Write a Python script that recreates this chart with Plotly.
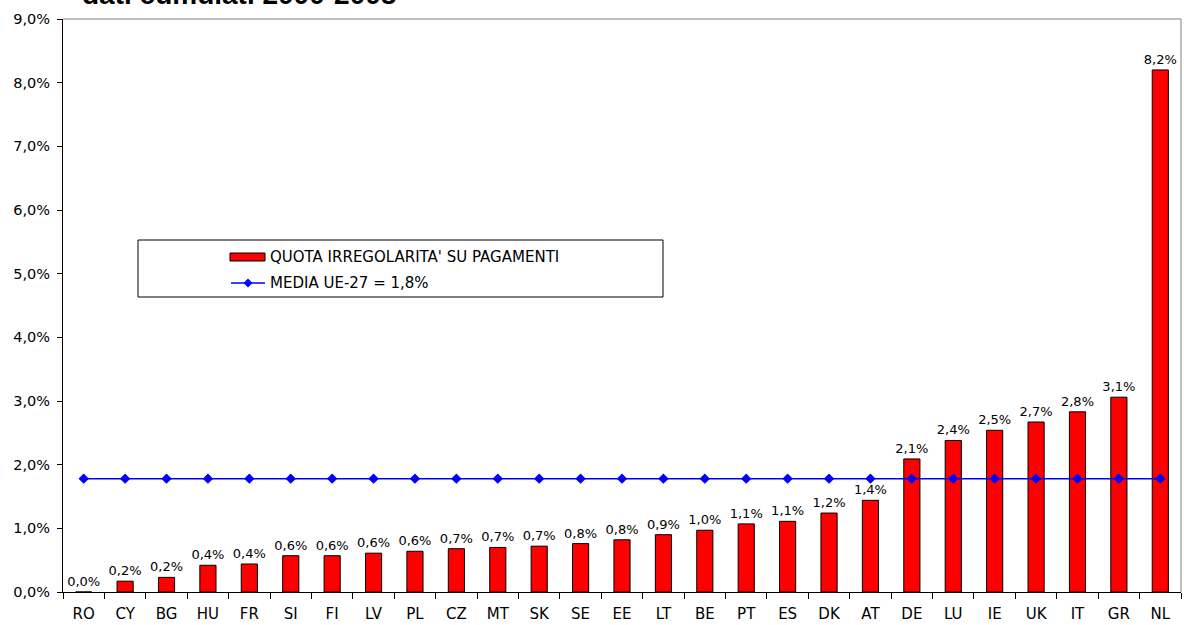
import plotly.graph_objects as go

countries = ["RO", "CY", "BG", "HU", "FR", "SI", "FI", "LV", "PL", "CZ", "MT", "SK", "SE", "EE",
             "LT", "BE", "PT", "ES", "DK", "AT", "DE", "LU", "IE", "UK", "IT", "GR", "NL"]
quota = [0.0000, 0.0017, 0.0023, 0.0042, 0.0044, 0.0057, 0.0057, 0.0061, 0.0064, 0.0068, 0.0070,
         0.0072, 0.0076, 0.0082, 0.0090, 0.0097, 0.0107, 0.0111, 0.0124, 0.0144, 0.0209, 0.0238,
         0.0254, 0.0267, 0.0283, 0.0306, 0.0820]
media_value = 0.0178
media = [media_value] * len(countries)

bar_name = "QUOTA IRREGOLARITA' SU PAGAMENTI"
line_name = "MEDIA UE-27 = 1,8%"
title_text = "dati cumulati 2000-2008"

W, H = 1184, 625
plot_left, plot_right, plot_top, plot_bottom = 63, 1181, 19, 592
L = plot_left
R = W - plot_right
T = plot_top
B = H - plot_bottom
pw = plot_right - plot_left
ph = plot_bottom - plot_top

def px_x(x):
    return (x - plot_left) / pw

def px_y(y):
    return (plot_bottom - y) / ph

font = "DejaVu Sans, Verdana, sans-serif"

fig = go.Figure()
fig.add_trace(go.Bar(
    x=countries, y=quota, name=bar_name,
    marker=dict(color="#FF0000", line=dict(color="black", width=1)),
    width=0.39,
    texttemplate="%{y:.1%}", textposition="outside", constraintext="none",
    textfont=dict(family=font, size=13, color="black"),
    cliponaxis=False, showlegend=False,
))
fig.add_trace(go.Scatter(
    x=countries, y=media, name=line_name, mode="lines+markers",
    line=dict(color="#0000FF", width=1.5),
    marker=dict(symbol="diamond", size=8, color="#0000FF"),
    showlegend=False,
))

# custom legend (box, symbols, labels)
lg_box = dict(type="rect", xref="paper", yref="paper",
              x0=px_x(138), x1=px_x(663), y0=px_y(297), y1=px_y(240),
              line=dict(color="black", width=1), fillcolor="white", layer="below")
lg_bar = dict(type="rect", xref="paper", yref="paper",
              x0=px_x(230), x1=px_x(265), y0=px_y(261), y1=px_y(253),
              line=dict(color="black", width=1), fillcolor="#FF0000")
lg_line = dict(type="line", xref="paper", yref="paper",
               x0=px_x(231), x1=px_x(265), y0=px_y(283), y1=px_y(283),
               line=dict(color="#0000FF", width=1.5))
cx, cy, d = 248, 283, 4.5
lg_diamond = dict(type="path", xref="paper", yref="paper",
                  path="M {} {} L {} {} L {} {} L {} {} Z".format(
                      px_x(cx - d), px_y(cy), px_x(cx), px_y(cy - d),
                      px_x(cx + d), px_y(cy), px_x(cx), px_y(cy + d)),
                  line=dict(color="#0000FF", width=0), fillcolor="#0000FF")

fig.update_layout(
    width=W, height=H,
    margin=dict(l=L, r=R, t=T, b=B, autoexpand=False),
    paper_bgcolor="white", plot_bgcolor="white",
    separators=",.",
    showlegend=False,
    xaxis=dict(
        showgrid=False, showline=True, linecolor="black", linewidth=1,
        ticks="outside", tickson="boundaries", ticklen=6, tickcolor="black",
        tickfont=dict(family=font, size=15, color="black"),
        range=[-0.5, len(countries) - 0.5], automargin=False, ticklabelstandoff=8,
    ),
    yaxis=dict(
        range=[0, 0.09], dtick=0.01, tickformat=".1%",
        showgrid=False, showline=True, linecolor="black", linewidth=1,
        ticks="outside", ticklen=5, tickcolor="black",
        tickfont=dict(family=font, size=14.5, color="black"),
        zeroline=False, automargin=False, ticklabelstandoff=4,
    ),
    shapes=[
        dict(type="line", xref="paper", yref="paper", x0=0, x1=1, y0=1, y1=1,
             line=dict(color="#808080", width=1)),
        dict(type="line", xref="paper", yref="paper", x0=1, x1=1, y0=0, y1=1,
             line=dict(color="#808080", width=1)),
        lg_box, lg_bar, lg_line, lg_diamond,
    ],
    annotations=[
        dict(text="<b>" + title_text + "</b>", xref="paper", yref="paper",
             x=px_x(80), y=px_y(12), xanchor="left", yanchor="bottom",
             showarrow=False,
             font=dict(family="Liberation Sans, Arial, sans-serif", size=28, color="black")),
        dict(text=bar_name, xref="paper", yref="paper",
             x=px_x(268), y=px_y(257), xanchor="left", yanchor="middle",
             showarrow=False, font=dict(family=font, size=15, color="black")),
        dict(text=line_name, xref="paper", yref="paper",
             x=px_x(268), y=px_y(283), xanchor="left", yanchor="middle",
             showarrow=False, font=dict(family=font, size=15, color="black")),
    ],
)

fig.write_html("out.html", config={"displayModeBar": False},
               post_script="document.body.style.margin='0';")
